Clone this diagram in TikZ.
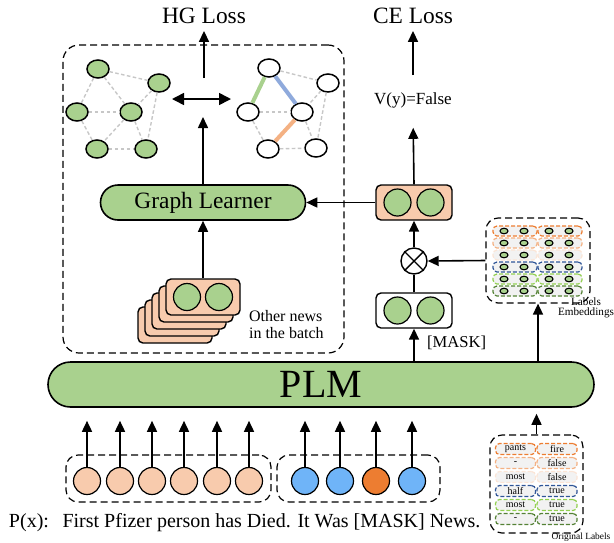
\documentclass[tikz,border=0pt]{standalone}
\usepackage{fontspec}
\setmainfont{Liberation Serif}
\usetikzlibrary{positioning,arrows.meta,shapes.geometric,fit}

\definecolor{leaf}{HTML}{A9D18E}
\definecolor{peach}{HTML}{F8CBAD}
\definecolor{sky}{HTML}{6FB4F8}
\definecolor{rust}{HTML}{ED7D31}
\definecolor{salmon}{HTML}{F4B183}
\definecolor{blush}{HTML}{FBE5D6}
\definecolor{navy}{HTML}{2F5597}
\definecolor{sprout}{HTML}{92D050}
\definecolor{moss}{HTML}{548235}
\definecolor{steel}{HTML}{8FAADC}
\definecolor{pale}{HTML}{F2F2F2}

\tikzset{
  arr/.style={line width=0.8pt, -{Triangle[length=5.5pt,width=5pt]}},
  dbox/.style={draw, dash pattern=on 3.5pt off 2pt, line width=0.6pt, rounded corners=6pt, inner sep=0pt},
  tok/.style={circle, draw, line width=0.6pt, minimum size=13.5pt, inner sep=0pt},
  gnode/.style={ellipse, draw, line width=0.75pt, fill=leaf, minimum width=11pt, minimum height=9pt, inner sep=0pt},
  wnode/.style={gnode, fill=white},
  gedge/.style={draw=black!22, dash pattern=on 1.8pt off 1.2pt, line width=0.7pt},
  vbox/.style={draw, line width=0.7pt, rounded corners=2.5pt, minimum width=38pt, minimum height=17.5pt, inner sep=0pt},
  lab/.style={draw=#1, fill=pale, dash pattern=on 2pt off 1pt, line width=0.6pt, rounded corners=2pt,
    minimum width=20pt, minimum height=5.5pt, inner sep=0pt, font=\fontsize{5}{5}\selectfont},
  emb/.style={lab=#1, minimum width=22pt, minimum height=5pt},
  dot/.style={ellipse, draw, line width=0.55pt, fill=leaf, minimum width=4pt, minimum height=2.8pt, inner sep=0pt},
  big/.style={font=\fontsize{11.7}{12}\selectfont},
}

\begin{document}
\begin{tikzpicture}[x=0.5pt, y=-0.5pt]
\useasboundingbox (0,0) rectangle (614,542);

% graph learner block
\node[dbox, rounded corners=8pt, fit={(63,45) (344,353)}] (gbox) {};

\foreach \n/\x/\y in {1/98/69,2/159/83,3/77/112,4/131/112,5/97/149,6/146/149}
  \node[gnode] (g\n) at (\x,\y) {};
\foreach \a/\b in {1/2,1/3,1/4,2/4,2/6,3/4,3/5,4/5,4/6,5/6}
  \draw[gedge] (g\a) -- (g\b);

\foreach \n/\x/\y in {1/269/68,2/328/83,3/248/112,4/302/112,5/268/149,6/316/148}
  \node[wnode] (w\n) at (\x,\y) {};
\foreach \a/\b in {1/2,2/4,2/6,3/4,3/5,4/6,5/6}
  \draw[gedge] (w\a) -- (w\b);
\draw[leaf, line width=2pt] (w1) -- (w3);
\draw[steel, line width=2pt] (w1) -- (w4);
\draw[salmon, line width=2pt] (w4) -- (w5);

\coordinate (dl) at (172,99);
\coordinate (dr) at (231,99);
\draw[line width=0.8pt, {Triangle[length=6pt,width=6pt]}-{Triangle[length=6pt,width=6pt]}] (dl) -- (dr);

\node[big] (hg) at (204,16) {HG Loss};
\coordinate (gt) at (204,78);
\draw[arr] (gt) -- (hg.south);

\node[draw, fill=leaf, line width=0.8pt, rounded corners=8.75pt, minimum width=102.5pt,
  minimum height=17.5pt, big] (gl) at (203,202.5) {Graph Learner};
\coordinate (gu) at (203,117);
\draw[arr] (gl.north) -- (gu);

\foreach \i in {4,3,2,1,0}
  \node[vbox, fill=peach, minimum width=37pt, minimum height=18pt] (c\i) at ({203-7*\i},{297+7*\i}) {};
\node[tok, fill=leaf] (ca) at (187,297) {};
\node[tok, fill=leaf] (cb) at (219,297) {};
\draw[arr] (c0.north) -- (gl.south);
\node[anchor=west, align=left, font=\fontsize{8}{8.5}\selectfont] (on) at (242,325) {Other news\\in the batch};

% prompt branch
\node[vbox, fill=peach] (up) at (414,202.5) {};
\node[tok, fill=leaf] (upa) at (397.5,202.5) {};
\node[tok, fill=leaf] (upb) at (430.5,202.5) {};
\node[circle, draw, line width=0.7pt, minimum size=13pt, inner sep=0pt] (mul) at (414,261) {};
\draw[line width=0.7pt] (mul.north west) -- (mul.south east) (mul.north east) -- (mul.south west);
\node[vbox, fill=white] (lo) at (414,310.5) {};
\node[tok, fill=leaf] (loa) at (397.5,310.5) {};
\node[tok, fill=leaf] (lob) at (430.5,310.5) {};
\node[anchor=west, font=\fontsize{8.3}{9}\selectfont] (mk) at (420,343) {[MASK]};

\node[font=\fontsize{8.5}{9}\selectfont] (vy) at (413,100) {V(y)=False};
\node[big] (ce) at (413,16) {CE Loss};

% label embeddings
\node[dbox, minimum width=52pt, minimum height=42.5pt] (le) at (538,260.5) {};
\foreach \c [count=\i from 0] in {rust,salmon,blush,navy,sprout,moss} {
  \node[emb=\c] (el\i) at (515,{231+12*\i}) {};
  \node[emb=\c] (er\i) at (560,{231+12*\i}) {};
  \foreach \x in {504,524,549,569}
    \node[dot] (d\i\x) at (\x,{231+12*\i}) {};
}
\node[align=center, font=\fontsize{5.6}{5}\selectfont] (let) at (586,308) {Labels\\Embeddings};

% original labels
\node[dbox, minimum width=46.5pt, minimum height=49pt] (ol) at (536.5,484) {};
\foreach \c/\l/\r [count=\i from 0] in {rust/pants/fire,salmon/-/false,blush/most/false,navy/half/true,sprout/most/true,moss/-/true} {
  \node[lab=\c] (ll\i) at (515.5,{449+14*\i}) {\l};
  \node[lab=\c] (lr\i) at (557,{449+14*\i}) {\r};
}
\node[font=\fontsize{4.7}{5}\selectfont] (olt) at (581,537) {Original Labels};

\node[draw, fill=leaf, line width=0.8pt, rounded corners=11.25pt, minimum width=273pt,
  minimum height=22.5pt, font=\fontsize{20}{20}\selectfont] (plm) at (321,384.5) {PLM};

\draw[arr] (lo.south |- plm.north) -- (lo.south);
\draw[line width=0.8pt] (lo.north) -- (mul.south);
\draw[arr] (mul.north) -- (up.south);
\draw[arr] (up.west) -- (gl.east);
\draw[arr, shorten >=6.5pt] (up.north) -- (vy.south);
\draw[arr] ([yshift=5pt]vy.north) -- (ce.south);
\draw[arr] (le.west) -- (mul.east);
\draw[arr] (le.south |- plm.north) -- (le.south);
\draw[arr, shorten >=3pt] (ol.north) -- (ol.north |- plm.south);

% input tokens
\node[dbox, minimum width=102.5pt, minimum height=23.5pt] (sb) at (168.5,478.5) {};
\node[dbox, minimum width=81.5pt, minimum height=23.5pt] (pb) at (358.5,478.5) {};
\foreach \x [count=\i] in {87,120,152,184,217,249} {
  \node[tok, fill=peach] (s\i) at (\x,481) {};
  \draw[arr, shorten >=6.5pt] (s\i.north) -- (s\i.north |- plm.south);
}
\foreach \x/\c [count=\i] in {305/sky,340/sky,376/rust,412/sky} {
  \node[tok, fill=\c] (p\i) at (\x,481) {};
  \draw[arr, shorten >=6.5pt] (p\i.north) -- (p\i.north |- plm.south);
}

\node[font=\fontsize{10}{10}\selectfont] (px) at (29,523) {P(x):};
\node[anchor=west, font=\fontsize{10}{10}\selectfont] (sent) at (55.5,523) {First Pfizer person has Died. It Was [MASK] News.};
\end{tikzpicture}
\end{document}
